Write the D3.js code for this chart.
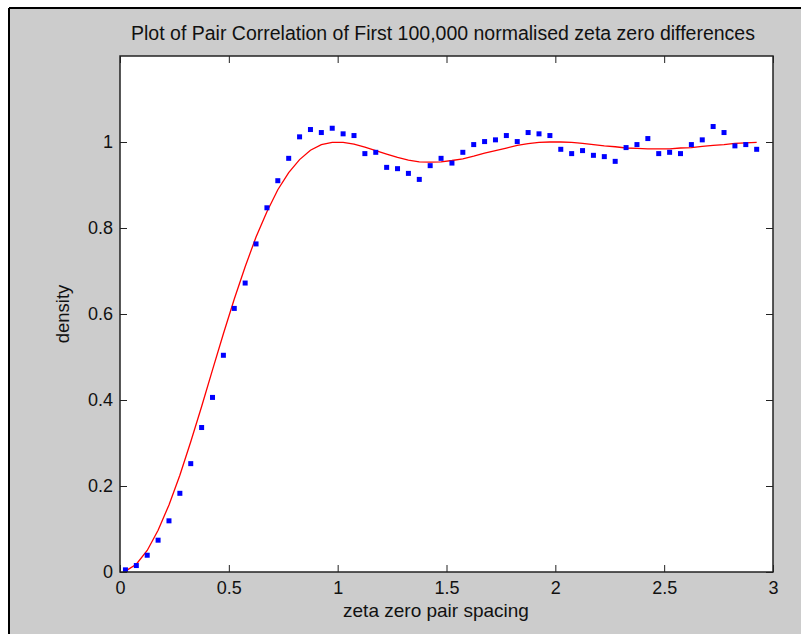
<!DOCTYPE html>
<html>
<head>
<meta charset="utf-8">
<script src="https://cdn.jsdelivr.net/npm/d3@7"></script>
<style>
  html, body { margin: 0; padding: 0; background: #ffffff; }
  svg { display: block; }
  text { font-family: "Liberation Sans", Arial, Helvetica, sans-serif; fill: #111; }
</style>
</head>
<body>
<svg id="chart" width="801" height="634"></svg>
<script>
// ---- Data ----
const spacing = [0.025,0.075,0.125,0.175,0.225,0.275,0.325,0.375,0.425,0.475,
  0.525,0.575,0.625,0.675,0.725,0.775,0.825,0.875,0.925,0.975,
  1.025,1.075,1.125,1.175,1.225,1.275,1.325,1.375,1.425,1.475,
  1.525,1.575,1.625,1.675,1.725,1.775,1.825,1.875,1.925,1.975,
  2.025,2.075,2.125,2.175,2.225,2.275,2.325,2.375,2.425,2.475,
  2.525,2.575,2.625,2.675,2.725,2.775,2.825,2.875,2.925];

// measured density of zeta zero pair spacings (blue squares)
const observedDensity = [0.005,0.015,0.039,0.074,0.119,0.183,0.252,0.336,0.406,0.504,
  0.613,0.672,0.763,0.847,0.910,0.962,1.012,1.029,1.022,1.032,
  1.019,1.015,0.973,0.976,0.941,0.938,0.927,0.913,0.945,0.962,
  0.951,0.976,0.994,1.001,1.005,1.015,1.001,1.022,1.019,1.015,
  0.983,0.973,0.980,0.969,0.966,0.955,0.987,0.994,1.008,0.973,
  0.976,0.973,0.994,1.005,1.036,1.022,0.991,0.994,0.983];

// Montgomery pair-correlation curve (red line), read at the same spacings
const predictedDensity = [0.002,0.018,0.050,0.097,0.156,0.225,0.303,0.385,0.470,0.554,
  0.635,0.710,0.779,0.838,0.889,0.929,0.959,0.981,0.994,0.999,
  0.999,0.995,0.988,0.980,0.972,0.964,0.958,0.954,0.953,0.954,
  0.957,0.961,0.967,0.974,0.980,0.986,0.992,0.996,0.999,1.000,
  1.000,0.999,0.997,0.994,0.991,0.989,0.986,0.985,0.984,0.984,
  0.984,0.986,0.987,0.990,0.992,0.994,0.997,0.998,0.999];

const xTicks = [0, 0.5, 1, 1.5, 2, 2.5, 3];
const xTickLabels = ["0", "0.5", "1", "1.5", "2", "2.5", "3"];
const yTicks = [0, 0.2, 0.4, 0.6, 0.8, 1];
const yTickLabels = ["0", "0.2", "0.4", "0.6", "0.8", "1"];

const titleText = "Plot of Pair Correlation of First 100,000 normalised zeta zero differences";
const xLabelText = "zeta zero pair spacing";
const yLabelText = "density";

// ---- Layout ----
const W = 801, H = 634;
const ax = { left: 120, right: 773, top: 56, bottom: 572 };
const tickLen = 7;

const svg = d3.select("#chart");

// figure window (gray) with black edge on top/left
svg.append("rect").attr("x", 0).attr("y", 0).attr("width", W).attr("height", H).attr("fill", "#ffffff");
svg.append("rect").attr("x", 9).attr("y", 8).attr("width", W - 9).attr("height", H - 8).attr("fill", "#cccccc");
svg.append("line").attr("x1", 9).attr("x2", W).attr("y1", 8).attr("y2", 8)
  .attr("stroke", "#000").attr("stroke-width", 2);
svg.append("line").attr("x1", 9).attr("x2", 9).attr("y1", 8).attr("y2", H)
  .attr("stroke", "#000").attr("stroke-width", 2);

const x = d3.scaleLinear().domain([0, 3]).range([ax.left, ax.right]);
const y = d3.scaleLinear().domain([0, 1.2]).range([ax.bottom, ax.top]);

// axes background
svg.append("rect")
  .attr("x", ax.left).attr("y", ax.top)
  .attr("width", ax.right - ax.left).attr("height", ax.bottom - ax.top)
  .attr("fill", "#ffffff");

const plot = svg.append("g");
const clipId = "plotclip";
svg.append("defs").append("clipPath").attr("id", clipId)
  .append("rect").attr("x", ax.left).attr("y", ax.top - 3)
  .attr("width", ax.right - ax.left + 3).attr("height", ax.bottom - ax.top + 3);

// red curve
const line = d3.line().x((d, i) => x(spacing[i])).y(d => y(d));
plot.append("path")
  .datum(predictedDensity)
  .attr("d", line)
  .attr("fill", "none")
  .attr("stroke", "#ff0000")
  .attr("stroke-width", 1.3)
  .attr("clip-path", `url(#${clipId})`);

// blue squares
const sq = 5;
plot.selectAll("rect.pt")
  .data(observedDensity)
  .join("rect")
  .attr("class", "pt")
  .attr("x", (d, i) => x(spacing[i]) - sq / 2)
  .attr("y", d => y(d) - sq / 2)
  .attr("width", sq).attr("height", sq)
  .attr("fill", "#0000ff")
  .attr("clip-path", `url(#${clipId})`);

// axes (ticks inward on all four sides)
const axisStyle = g => {
  g.select(".domain").remove();
  g.selectAll(".tick line").attr("stroke", "#222").attr("stroke-width", 1);
  g.selectAll(".tick text").attr("fill", "#111")
    .style("font-family", '"Liberation Sans", Arial, sans-serif').style("font-size", "18px");
};

svg.append("g").attr("transform", `translate(0,${ax.bottom})`)
  .call(d3.axisBottom(x).tickValues(xTicks).tickFormat((d, i) => xTickLabels[i])
    .tickSizeInner(-tickLen).tickSizeOuter(0).tickPadding(9))
  .call(axisStyle);

svg.append("g").attr("transform", `translate(0,${ax.top})`)
  .call(d3.axisTop(x).tickValues(xTicks).tickFormat("")
    .tickSizeInner(-tickLen).tickSizeOuter(0))
  .call(axisStyle);

svg.append("g").attr("transform", `translate(${ax.left},0)`)
  .call(d3.axisLeft(y).tickValues(yTicks).tickFormat((d, i) => yTickLabels[i])
    .tickSizeInner(-tickLen).tickSizeOuter(0).tickPadding(7))
  .call(axisStyle);

svg.append("g").attr("transform", `translate(${ax.right},0)`)
  .call(d3.axisRight(y).tickValues(yTicks).tickFormat("")
    .tickSizeInner(-tickLen).tickSizeOuter(0))
  .call(axisStyle);

// axes box
svg.append("rect")
  .attr("x", ax.left).attr("y", ax.top)
  .attr("width", ax.right - ax.left).attr("height", ax.bottom - ax.top)
  .attr("fill", "none").attr("stroke", "#222").attr("stroke-width", 1.5);

// title and labels
svg.append("text")
  .attr("x", 443).attr("y", 40)
  .attr("text-anchor", "middle").style("font-size", "19.5px")
  .text(titleText);

svg.append("text")
  .attr("x", 436).attr("y", 617)
  .attr("text-anchor", "middle").style("font-size", "19px")
  .text(xLabelText);

svg.append("text")
  .attr("transform", `translate(69,${(ax.top + ax.bottom) / 2}) rotate(-90)`)
  .attr("text-anchor", "middle").style("font-size", "18.5px")
  .text(yLabelText);
</script>
</body>
</html>
